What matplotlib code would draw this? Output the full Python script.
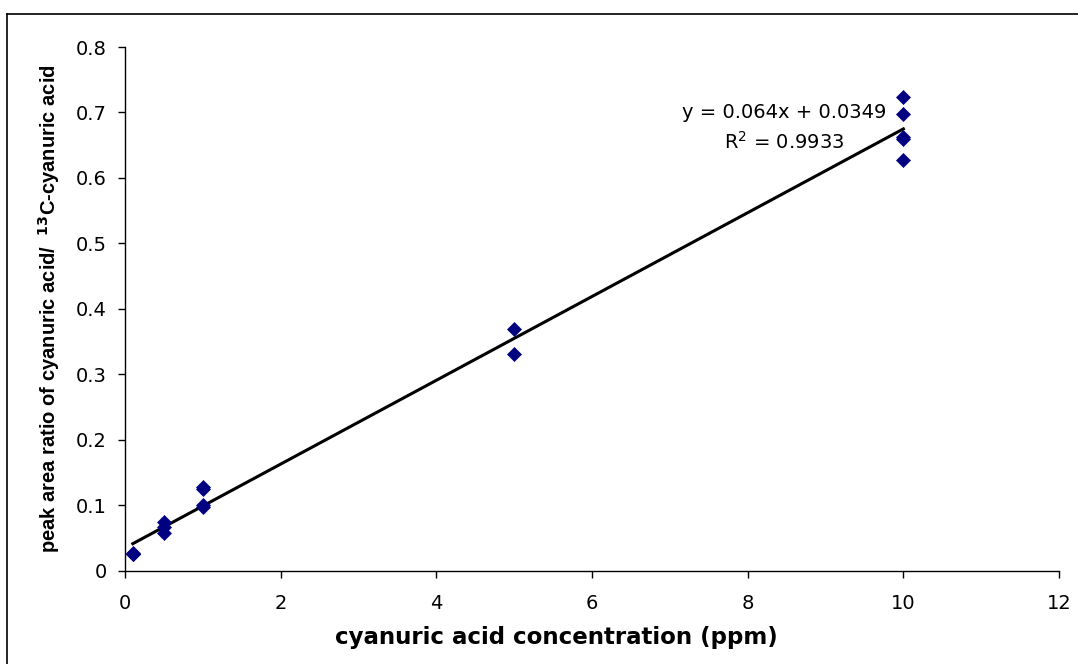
import matplotlib.pyplot as plt
from matplotlib.lines import Line2D

# calibration points
conc = [0.1, 0.1, 0.1, 0.5, 0.5, 0.5, 1, 1, 1, 1, 5, 5, 10, 10, 10, 10, 10]
ratio = [0.025, 0.027, 0.026, 0.074, 0.067, 0.057, 0.128, 0.125, 0.101, 0.098,
         0.369, 0.331, 0.724, 0.698, 0.663, 0.660, 0.628]

# trendline as printed on the chart
slope = 0.064
intercept = 0.0349
r2 = 0.9933

x_ticks = [0, 2, 4, 6, 8, 10, 12]
y_ticks = [0, 0.1, 0.2, 0.3, 0.4, 0.5, 0.6, 0.7, 0.8]
y_labels = ['0', '0.1', '0.2', '0.3', '0.4', '0.5', '0.6', '0.7', '0.8']

plt.rcParams['font.family'] = ['DejaVu Sans']
plt.rcParams['mathtext.fontset'] = 'dejavusans'

fig = plt.figure(figsize=(10.78, 6.64), dpi=100)
ax = fig.add_axes([0.116, 0.1405, 0.8664, 0.7887])

xs = [min(conc), max(conc)]
ax.plot(xs, [slope * x + intercept for x in xs], color='black', lw=2.2, zorder=2)
ax.plot(conc, ratio, ls='none', marker='D', ms=7, color='#000080',
        mec='#000080', mew=0.5, zorder=3)

ax.set_xlim(0, 12)
ax.set_ylim(0, 0.8)
ax.set_xticks(x_ticks)
ax.set_yticks(y_ticks)
ax.set_yticklabels(y_labels)
ax.tick_params(direction='out', length=5, width=1, labelsize=14, color='black')
ax.tick_params(axis='x', pad=12)
ax.tick_params(axis='y', pad=8)
for s in ['top', 'right']:
    ax.spines[s].set_visible(False)
for s in ['left', 'bottom']:
    ax.spines[s].set_linewidth(1)

ax.set_xlabel('cyanuric acid concentration (ppm)', fontsize=16.5, fontweight='bold')
ax.xaxis.set_label_coords(0.4615, -0.105)
ax.set_ylabel(r'peak area ratio of cyanuric acid/  $^{\mathbf{13}}$C-cyanuric acid',
              family='Liberation Sans', fontsize=14.5, fontweight='bold', labelpad=10)

ax.text(8.47, 0.700, 'y = %.3fx + %.4f' % (slope, intercept), ha='center', va='center', fontsize=14)
ax.text(8.47, 0.655, r'R$^2$ = %.4f' % r2, ha='center', va='center', fontsize=14)

# outer chart frame (left and top edges visible in the reference)
fig.add_artist(Line2D([0.0065, 0.0065], [0, 0.979], transform=fig.transFigure, color='black', lw=1.2))
fig.add_artist(Line2D([0.0065, 1], [0.979, 0.979], transform=fig.transFigure, color='black', lw=1.2))

fig.savefig('out.png', dpi=100)
